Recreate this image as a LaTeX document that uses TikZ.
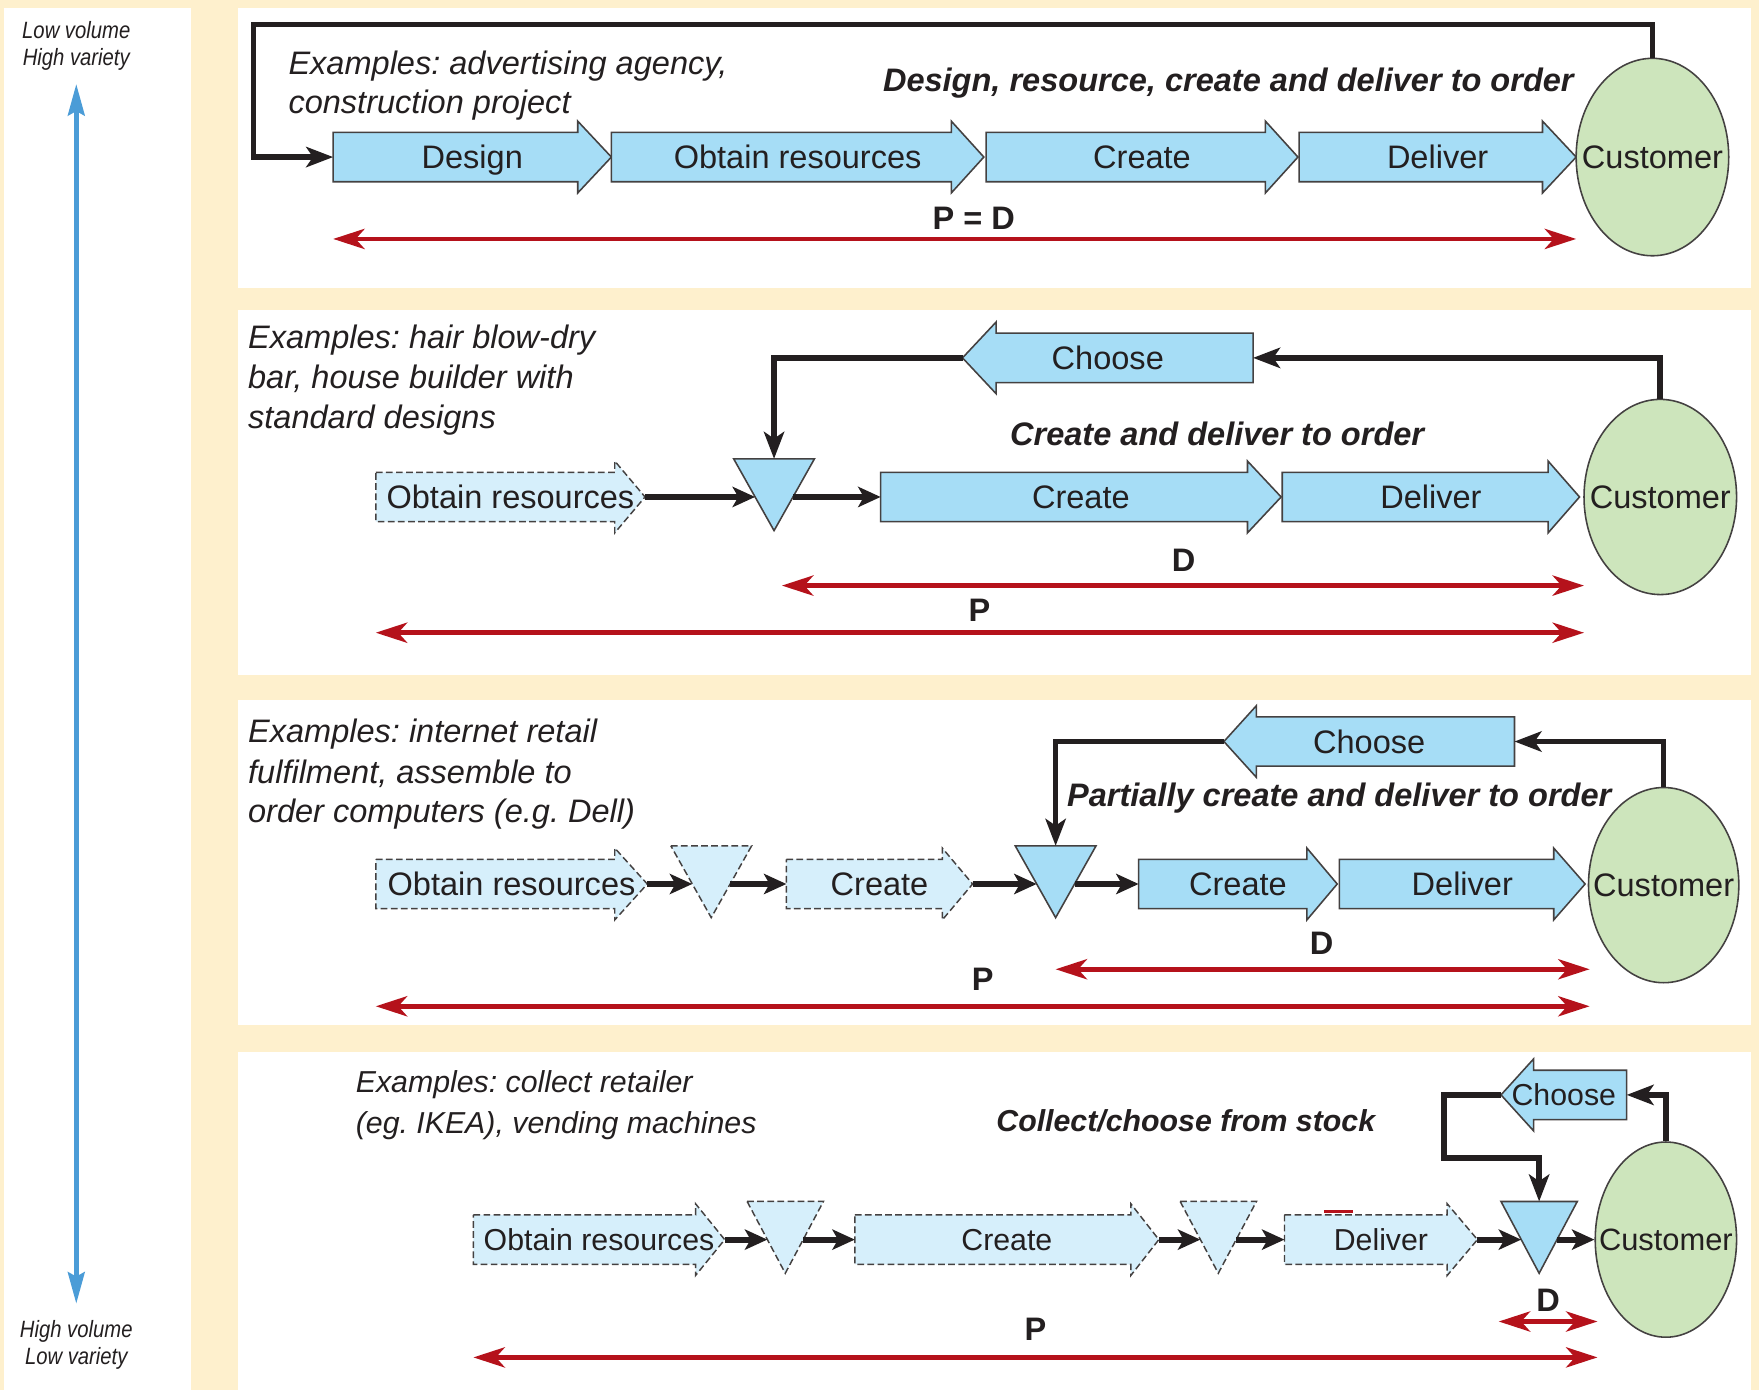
\documentclass[tikz,border=0pt]{standalone}
\usepackage{fontspec}
\setmainfont{Liberation Sans}
\newfontfamily\narrowsans[FakeStretch=0.86]{Liberation Sans}
\usetikzlibrary{arrows.meta,shapes.geometric}
\frenchspacing

\definecolor{cream}{HTML}{FEF0CD}
\definecolor{stepblue}{HTML}{A6DDF6}
\definecolor{paleblue}{HTML}{D6EFFB}
\definecolor{custgreen}{HTML}{CDE5BC}
\definecolor{flowred}{HTML}{B5121B}
\definecolor{axisblue}{HTML}{4B9CD7}
\definecolor{ink}{HTML}{231F20}

% process step drawn as a block arrow:
% #1 name, #2 style, #3 tail x, #4 head base x, #5 tip x, #6 row y, #7 label
\newcommand\procstep[7]{%
  \draw[#2] (#3,#6-22) -- (#4,#6-22) -- (#4,#6-32) -- (#5,#6) -- (#4,#6+32)
            -- (#4,#6+22) -- (#3,#6+22) -- cycle;
  \node[steplabel] (#1) at ({(#3+#5)/2},#6) {#7};
  \coordinate (#1-tail) at (#3,#6);
  \coordinate (#1-tip) at (#5,#6);
}
% stock buffer drawn as an inverted triangle:
% #1 name, #2 style, #3 centre x, #4 row y, #5 half width of the top edge
\newcommand\stockbuffer[5]{%
  \draw[#2] (#3-#5,#4-34) -- (#3+#5,#4-34) -- (#3,#4+30) -- cycle;
  \coordinate (#1-n) at (#3,#4-34);
  \coordinate (#1-w) at (#3-#5*0.47,#4);
  \coordinate (#1-e) at (#3+#5*0.47,#4);
}
% label that does not widen the ellipse around it
\newcommand\custtext{\makebox[0pt]{Customer}}

\begin{document}
\begin{tikzpicture}[x=1pt,y=-1pt,
  solidstep/.style={fill=stepblue,draw=ink!85,line width=1.4pt,line join=miter},
  pendingstep/.style={fill=paleblue,draw=ink!85,line width=1.3pt,dash pattern=on 6pt off 3pt},
  steplabel/.style={inner sep=0pt,text height=21pt,text depth=0pt,
    font=\fontsize{29}{34}\selectfont,text=ink},
  customer/.style={ellipse,fill=custgreen,draw=ink!85,line width=1.4pt,inner sep=0pt,
    text height=21pt,text depth=0pt,font=\fontsize{29}{34}\selectfont,text=ink},
  example/.style={anchor=base west,inner sep=0pt,font=\fontsize{29}{34}\selectfont\itshape,text=ink},
  heading/.style={inner sep=0pt,font=\fontsize{29}{34}\selectfont\bfseries\itshape,text=ink},
  span/.style={inner sep=0pt,anchor=base,font=\fontsize{29}{34}\selectfont\bfseries,text=ink},
  axislabel/.style={inner sep=0pt,anchor=base,font=\narrowsans\fontsize{21}{24}\selectfont\itshape,text=ink},
  feedin/.style={draw=ink,line width=5pt,line join=miter,-{Stealth[length=24pt,width=18pt,inset=6pt]}},
  flow/.style={draw=ink,line width=5.5pt,-{Stealth[length=20pt,width=18pt,inset=5pt]}},
  leadtime/.style={draw=flowred,line width=4pt,
    {Stealth[length=28pt,width=18pt,inset=8pt]}-{Stealth[length=28pt,width=18pt,inset=8pt]}},
  volaxis/.style={draw=axisblue,line width=4pt,
    {Stealth[length=28pt,width=15pt,inset=4pt]}-{Stealth[length=28pt,width=15pt,inset=4pt]}},
]
\useasboundingbox (0,0) rectangle (1568,1239);

% background and panels
\fill[cream] (0,0) rectangle (1568,1239);
\fill[white] (4,7) rectangle (170,1239);
\fill[white] (212,7) rectangle (1561,257);
\fill[white] (212,276) rectangle (1561,602);
\fill[white] (212,624) rectangle (1561,914);
\fill[white] (212,938) rectangle (1561,1239);

% volume / variety axis
\node[axislabel] (lowvol) at (68,34) {Low volume};
\node[axislabel] (highvar) at (68,58) {High variety};
\node[axislabel] (highvol) at (68,1192) {High volume};
\node[axislabel] (lowvar) at (68,1216) {Low variety};
\coordinate (axtop) at (68,75);
\coordinate (axbot) at (68,1162);
\draw[volaxis] (axtop) -- (axbot);

% ---------- design, resource, create and deliver to order ----------
\node[example] (ex1a) at (257,66) {Examples: advertising agency,};
\node[example] (ex1b) at (257,101) {construction project};
\node[heading,anchor=base east] (title1) at (1403,82) {Design, resource, create and deliver to order};
\procstep{design1}{solidstep}{297}{515}{545}{140}{Design}
\procstep{obtain1}{solidstep}{545}{848}{877}{140}{Obtain resources}
\procstep{create1}{solidstep}{879}{1128}{1157}{140}{Create}
\procstep{deliver1}{solidstep}{1158}{1375}{1405}{140}{Deliver}
\node[customer,minimum width=136pt,minimum height=176pt] (cust1) at (1473,140) {\custtext};
\coordinate (fb1corner) at (226,22);
\draw[feedin] (cust1.north) |- (fb1corner) |- (design1-tail);
\node[span] (pd1) at (868,205) {P = D};
\coordinate (pd1l) at (297,213);
\coordinate (pd1r) at (1405,213);
\draw[leadtime] (pd1l) -- (pd1r);

% ---------- create and deliver to order ----------
\node[example] (ex2a) at (221,311) {Examples: hair blow-dry};
\node[example] (ex2b) at (221,346) {bar, house builder with};
\node[example] (ex2c) at (221,382) {standard designs};
\node[heading,anchor=base] (title2) at (1085,397) {Create and deliver to order};
\procstep{choose2}{solidstep}{1117}{888}{858}{319}{Choose}
\procstep{obtain2}{pendingstep}{335}{548}{575}{443}{Obtain resources}
\stockbuffer{tri2}{solidstep}{690}{443}{36}
\procstep{create2}{solidstep}{785}{1112}{1142}{443}{Create}
\procstep{deliver2}{solidstep}{1143}{1380}{1408}{443}{Deliver}
\node[customer,minimum width=136pt,minimum height=174pt] (cust2) at (1480,443) {\custtext};
\draw[feedin] (cust2.north) |- (choose2-tail);
\draw[feedin] (choose2-tip) -| (tri2-n);
\draw[flow] (obtain2-tip) -- (tri2-w);
\draw[flow] (tri2-e) -- (create2-tail);
\node[span] (d2) at (1055,509) {D};
\coordinate (d2l) at (697,522);
\coordinate (d2r) at (1412,522);
\draw[leadtime] (d2l) -- (d2r);
\node[span] (p2) at (873,554) {P};
\coordinate (p2l) at (335,564);
\coordinate (p2r) at (1412,564);
\draw[leadtime] (p2l) -- (p2r);

% ---------- partially create and deliver to order ----------
\node[example] (ex3a) at (221,662) {Examples: internet retail};
\node[example] (ex3b) at (221,698) {fulfilment, assemble to};
\node[example] (ex3c) at (221,733) {order computers (e.g. Dell)};
\node[heading,anchor=base west] (title3) at (951,719) {Partially create and deliver to order};
\procstep{choose3}{solidstep}{1350}{1120}{1091}{661}{Choose}
\procstep{obtain3}{pendingstep}{335}{548}{577}{788}{Obtain resources}
\stockbuffer{tri3a}{pendingstep}{634}{788}{36}
\procstep{create3a}{pendingstep}{701}{840}{867}{788}{Create}
\stockbuffer{tri3b}{solidstep}{941}{788}{36}
\procstep{create3b}{solidstep}{1015}{1165}{1192}{788}{Create}
\procstep{deliver3}{solidstep}{1194}{1385}{1413}{788}{Deliver}
\node[customer,minimum width=134pt,minimum height=174pt] (cust3) at (1483,789) {\custtext};
\draw[feedin] (cust3.north) |- (choose3-tail);
\draw[feedin] (choose3-tip) -| (tri3b-n);
\draw[flow] (obtain3-tip) -- (tri3a-w);
\draw[flow] (tri3a-e) -- (create3a-tail);
\draw[flow] (create3a-tip) -- (tri3b-w);
\draw[flow] (tri3b-e) -- (create3b-tail);
\node[span] (d3) at (1178,851) {D};
\coordinate (d3l) at (941,864);
\coordinate (d3r) at (1417,864);
\draw[leadtime] (d3l) -- (d3r);
\node[span] (p3) at (876,883) {P};
\coordinate (p3l) at (335,897);
\coordinate (p3r) at (1417,897);
\draw[leadtime] (p3l) -- (p3r);

% ---------- collect / choose from stock ----------
\begin{scope}[
  steplabel/.append style={font=\fontsize{27}{32}\selectfont,text height=19.5pt},
  customer/.append style={font=\fontsize{27.5}{32}\selectfont,text height=19.5pt},
  example/.append style={font=\fontsize{27}{32}\selectfont\itshape},
  heading/.append style={font=\fontsize{27}{32}\selectfont\bfseries\itshape}]
\node[example] (ex4a) at (317,974) {Examples: collect retailer};
\node[example] (ex4b) at (317,1010) {(eg. IKEA), vending machines};
\node[heading,anchor=base] (title4) at (1057,1009) {Collect/choose from stock};
\procstep{choose4}{solidstep}{1450}{1367}{1338}{976}{Choose}
\procstep{obtain4}{pendingstep}{422}{620}{646}{1105}{Obtain resources}
\stockbuffer{tri4a}{pendingstep}{700}{1105}{34}
\procstep{create4}{pendingstep}{762}{1008}{1033}{1105}{Create}
\stockbuffer{tri4b}{pendingstep}{1086}{1105}{34}
\procstep{deliver4}{pendingstep}{1145}{1290}{1317}{1105}{Deliver}
\stockbuffer{tri4c}{solidstep}{1372}{1105}{34}
\node[customer,minimum width=126pt,minimum height=174pt] (cust4) at (1485,1105) {\custtext};
\draw[feedin] (cust4.north) |- (choose4-tail);
\coordinate (fb4corner) at (1287,1032);
\draw[feedin] (choose4-tip) -| (fb4corner) -| (tri4c-n);
\draw[flow] (obtain4-tip) -- (tri4a-w);
\draw[flow] (tri4a-e) -- (create4-tail);
\draw[flow] (create4-tip) -- (tri4b-w);
\draw[flow] (tri4b-e) -- (deliver4-tail);
\draw[flow] (deliver4-tip) -- (tri4c-w);
\draw[flow] (tri4c-e) -- (cust4.west);
\draw[flowred,line width=2pt] (1180,1080) -- (1206,1080);
\node[span] (d4) at (1380,1169) {D};
\coordinate (d4l) at (1336,1178);
\coordinate (d4r) at (1424,1178);
\draw[leadtime] (d4l) -- (d4r);
\node[span] (p4) at (923,1195) {P};
\coordinate (p4l) at (422,1210);
\coordinate (p4r) at (1424,1210);
\draw[leadtime] (p4l) -- (p4r);
\end{scope}
\end{tikzpicture}
\end{document}
